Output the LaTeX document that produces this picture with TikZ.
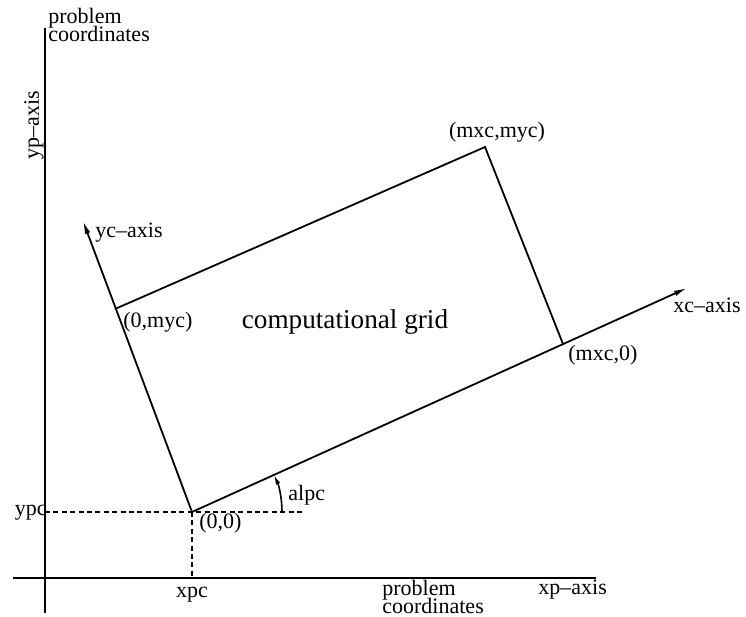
\documentclass[tikz,border=0pt]{standalone}
\usepackage{fontspec}
\setmainfont{Liberation Serif}
\usetikzlibrary{arrows.meta, positioning, calc}
\tikzset{
  lbl/.style={font=\fontsize{11}{7.5}\selectfont, inner sep=0pt, align=left},
  biglbl/.style={font=\fontsize{13.6}{16}\selectfont, inner sep=0pt},
  axline/.style={line width=1pt},
  gridline/.style={line width=0.9pt},
  helpline/.style={line width=0.7pt, dash pattern=on 2.5pt off 1.7pt},
  axarr/.style={-{Latex[length=6.5pt, width=2.8pt]}, line width=0.9pt},
}

\begin{document}
\begin{tikzpicture}[x=0.5pt, y=0.5pt]
    \useasboundingbox (0,0) rectangle (746,617);
    \coordinate (yptop) at (45,589); \coordinate (ypbot) at (45,4);
    \coordinate (xpleft) at (13,39); \coordinate (xpright) at (596,39);
    \coordinate (O) at (192,105);
    \coordinate (mx) at (563,273);
    \coordinate (mxy) at (485,470);
    \coordinate (my) at (115,308);
    \coordinate (xtip) at (687,329);
    \coordinate (ytip) at (83,396);
    \coordinate (dashend) at (305,105);
    \draw[axline] (ypbot) -- (yptop);
    \draw[axline] (xpleft) -- (xpright);
    \draw[helpline] (O -| yptop) -- (dashend);
    \draw[helpline] (O) -- (O |- xpleft);
    \draw[axarr] (O) -- (xtip);
    \draw[axarr] (O) -- (ytip);
    \draw[gridline] (my) -- (mxy) -- (mx);
    \draw[-{Latex[length=5pt, width=2.4pt]}, line width=0.8pt] ($(O)+(45pt,0)$) arc[start angle=0, end angle=24.5, radius=45pt];
    \node[lbl, anchor=west] (pctop) at (48,592) {problem\\[-2pt]coordinates};
    \node[lbl, rotate=90] (ypaxis) at (34,492) {yp--axis};
    \node[lbl, anchor=west] (ycaxis) at (95,384) {yc--axis};
    \node[lbl, anchor=west] (mylbl) at (123,295) {(0,myc)};
    \node[lbl] (mxylbl) at (497,485) {(mxc,myc)};
    \node[lbl, anchor=west] (mxlbl) at (568,262) {(mxc,0)};
    \node[lbl, anchor=west] (xcaxis) at (673,312) {xc--axis};
    \node[biglbl] (grid) at (345,295) {computational grid};
    \node[lbl, anchor=west] (alpc) at (288,122) {alpc};
    \node[lbl, anchor=west] (Olbl) at (199,94) {(0,0)};
    \node[lbl, anchor=east] (ypc) at (47,104) {ypc};
    \node[lbl] (xpc) at (192,22) {xpc};
    \node[lbl, anchor=west] (pcbot) at (382,20) {problem\\[-2pt]coordinates};
    \node[lbl, anchor=west] (xpaxis) at (538,27) {xp--axis};
  \end{tikzpicture}
\end{document}
